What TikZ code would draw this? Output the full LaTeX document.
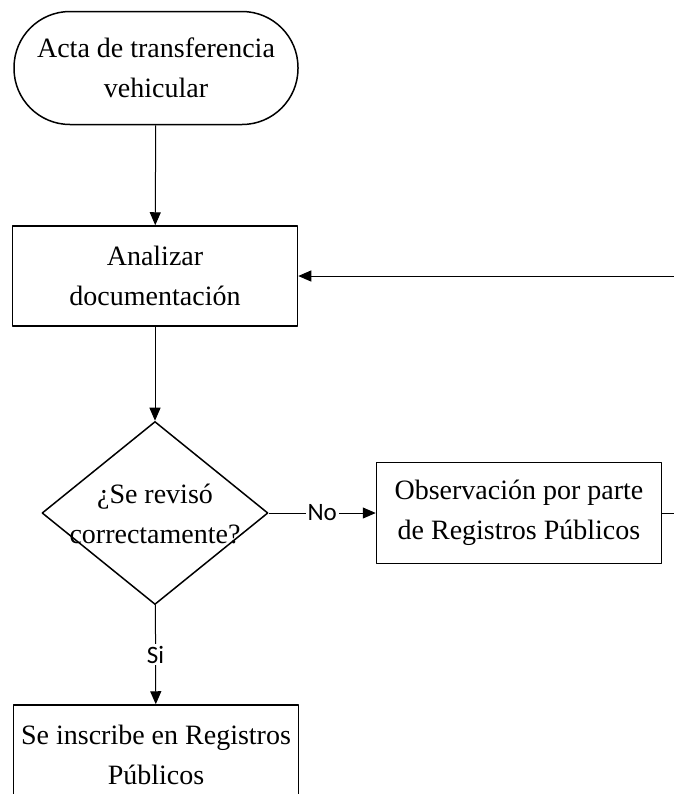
\documentclass[tikz,border=0pt]{standalone}
\usepackage{fontspec}
\setmainfont{Liberation Serif}
\newfontfamily\lblfont{Carlito}
\usetikzlibrary{arrows.meta,shapes.geometric}
\begin{document}
\begin{tikzpicture}[x=0.5pt, y=-0.5pt, line join=round,
    >={Triangle[length=6.5pt,width=5.5pt]},
    font=\fontsize{14}{20}\selectfont,
    caja/.style={draw, line width=0.75pt, rectangle, align=center, inner sep=0pt},
    inicio/.style={caja, rounded corners=28pt, minimum width=142pt, minimum height=56.5pt},
    proceso/.style={caja, minimum width=142.5pt, minimum height=50pt},
    decision/.style={draw, line width=0.75pt, diamond, inner sep=0pt, minimum width=113pt, minimum height=91.5pt},
    flecha/.style={->, line width=0.5pt},
    lbl/.style={fill=white, inner sep=1pt, font=\lblfont\fontsize{12.5}{14}\selectfont}]
  \useasboundingbox (0,0) rectangle (674,794);
  % nodos
  \node[inicio] (acta) at (156,68) {Acta de transferencia\\vehicular};
  \node[proceso] (analizar) at (155,276) {Analizar\\documentaci\'on};
  \node[decision] (revision) at (155,513) {};
  \node[align=center, inner sep=0pt] (pregunta) at (155,514) {¿Se revisó\\correctamente?};
  \node[proceso, minimum height=50.5pt] (observacion) at (519,513) {Observación por parte\\de Registros Públicos};
  \node[proceso] (inscribe) at (156,755) {Se inscribe en Registros\\Públicos};
  \coordinate (retorno) at (720,513);
  % conectores
  \draw[flecha] (acta) -- (analizar);
  \draw[flecha] (analizar) -- (revision);
  \draw[flecha] (revision) -- node[lbl] {No} (observacion);
  \draw[flecha] (revision) -- node[lbl] {Si} (inscribe);
  \draw[flecha] (observacion) -- (retorno) |- (analizar);
\end{tikzpicture}
\end{document}
